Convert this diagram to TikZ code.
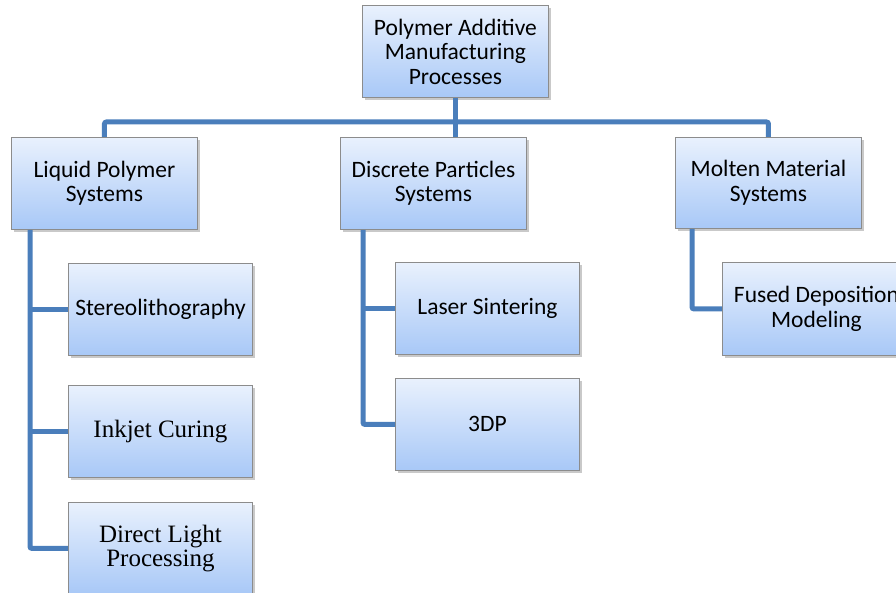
\documentclass[tikz,border=0pt]{standalone}
\usepackage{fontspec}
\setmainfont{Carlito}
\newfontfamily\serifface{Liberation Serif}
\usetikzlibrary{shadows}
\definecolor{linkblue}{RGB}{74,126,187}
\definecolor{boxtop}{RGB}{233,241,253}
\definecolor{boxbottom}{RGB}{168,200,247}
\definecolor{boxedge}{RGB}{140,140,140}
\tikzset{
  procbox/.style={draw=boxedge, line width=0.9pt, top color=boxtop, bottom color=boxbottom,
    minimum width=186pt, minimum height=92pt, inner sep=2pt, anchor=north west,
    align=center, font=\fontsize{23.5}{24.5}\selectfont,
    drop shadow={shadow xshift=2.5pt, shadow yshift=-3pt, opacity=0.3, fill=black!70}},
  serifbox/.style={procbox, font=\serifface\fontsize{25}{24.5}\selectfont},
  link/.style={draw=linkblue, line width=5pt, rounded corners=2pt}
}
\begin{document}
\begin{tikzpicture}[x=1pt, y=-1pt]
  \useasboundingbox (0,0) rectangle (896,593);
  \clip (0,0) rectangle (896,593);

  % boxes
  \node[procbox, minimum width=186pt] (root) at (362,5) {Polymer Additive\\Manufacturing\\Processes};
  \node[procbox] (liquid) at (11,137) {Liquid Polymer\\Systems};
  \node[procbox] (discrete) at (340,137) {Discrete Particles\\Systems};
  \node[procbox, minimum height=91pt] (molten) at (675,137) {Molten Material\\Systems};

  \node[procbox, minimum width=184pt] (stereo) at (68,263) {Stereolithography};
  \node[serifbox, minimum width=184pt] (inkjet) at (68,385) {Inkjet Curing};
  \node[serifbox, minimum width=184pt] (dlp) at (68,502) {Direct Light\\Processing};

  \node[procbox, minimum width=184pt] (laser) at (395,262) {Laser Sintering};
  \node[procbox, minimum width=184pt] (tdp) at (395,378) {3DP};

  \node[procbox, minimum width=188pt, minimum height=93pt] (fdm) at (722,262) {Fused Deposition\\Modeling};

  % connectors: trunk, bus and the three branch spines
  \draw[link] (root.south) -- (root.south |- discrete.north);
  \draw[link] (liquid.north) -- ++(0,-15) -| (molten.north);

  \draw[link] ([xshift=19pt]liquid.south west) |- (dlp.west);
  \draw[link] ([xshift=19pt]liquid.south west |- stereo.west) -- (stereo.west);
  \draw[link] ([xshift=19pt]liquid.south west |- inkjet.west) -- (inkjet.west);

  \draw[link] ([xshift=23pt]discrete.south west) |- (tdp.west);
  \draw[link] ([xshift=23pt]discrete.south west |- laser.west) -- (laser.west);

  \draw[link] ([xshift=17pt]molten.south west) |- (fdm.west);
\end{tikzpicture}
\end{document}
